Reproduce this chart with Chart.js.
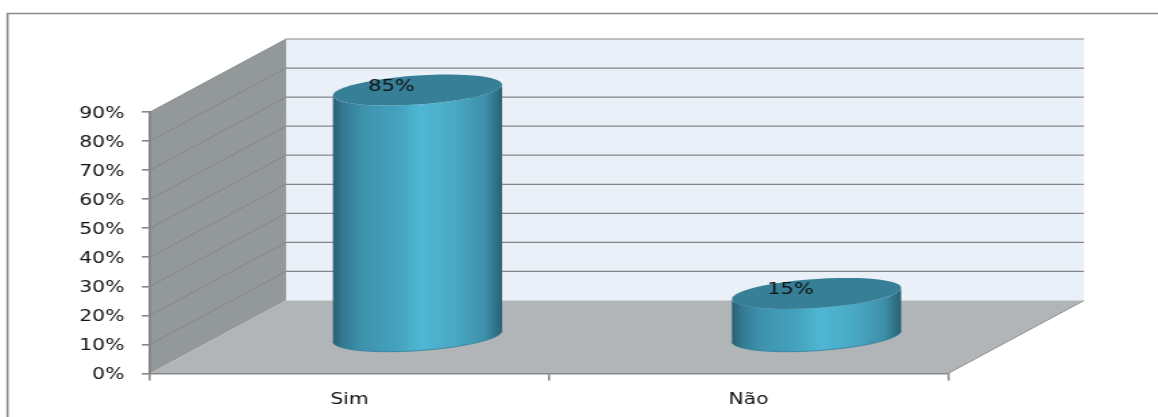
<!DOCTYPE html>
<html><head><meta charset="utf-8">
<style>
html,body{margin:0;padding:0;background:#fff;overflow:hidden}
canvas{display:block;width:1158px!important;height:417px!important;filter:blur(0.4px)}
</style>
<script src="https://cdn.jsdelivr.net/npm/chart.js@4"></script>
</head><body><canvas id="c" width="858" height="417"></canvas>
<script>
const categories = ["Sim", "Não"];
const seriesValues = [85, 15];
const yMin = 0, yMax = 90, yStep = 10;

const SX = 1158 / 858;            // the picture is stretched horizontally
const DX = 136 / SX, DY = 73;     // 3D depth offset
const FONT = '"DejaVu Sans"';

const scene = {
  id: 'scene',
  beforeDraw(chart) {
    const {ctx} = chart, x = chart.scales.x, y = chart.scales.y;
    const l = x.left, r = x.right, t = y.top, b = y.bottom;
    ctx.save();
    // outer frame
    ctx.strokeStyle = '#8c8c8c'; ctx.lineWidth = 1.6;
    ctx.beginPath(); ctx.moveTo(5.6, 417); ctx.lineTo(5.6, 13.5); ctx.lineTo(858, 13.5); ctx.stroke();
    // back wall
    ctx.fillStyle = '#e9f0f7';
    ctx.fillRect(l + DX, t - DY, r - l, b - t);
    // left wall
    ctx.fillStyle = '#93989a';
    ctx.beginPath(); ctx.moveTo(l, t); ctx.lineTo(l + DX, t - DY); ctx.lineTo(l + DX, b - DY); ctx.lineTo(l, b); ctx.closePath(); ctx.fill();
    // floor
    ctx.fillStyle = '#b1b5b8';
    ctx.beginPath(); ctx.moveTo(l, b); ctx.lineTo(r, b); ctx.lineTo(r + DX, b - DY); ctx.lineTo(l + DX, b - DY); ctx.closePath(); ctx.fill();
    // grid lines on walls
    y.ticks.forEach(tk => {
      const py = y.getPixelForValue(tk.value);
      if (tk.value > yMin) {
        ctx.strokeStyle = '#848788'; ctx.lineWidth = 1.2;
        ctx.beginPath(); ctx.moveTo(l + DX, py - DY); ctx.lineTo(r + DX, py - DY); ctx.stroke();
        ctx.strokeStyle = '#7f8384'; ctx.lineWidth = 0.8;
        ctx.beginPath(); ctx.moveTo(l, py); ctx.lineTo(l + DX, py - DY); ctx.stroke();
      }
    });
    // floor right edge
    ctx.strokeStyle = '#8c8f91'; ctx.lineWidth = 1;
    ctx.beginPath(); ctx.moveTo(r, b); ctx.lineTo(r + DX, b - DY); ctx.stroke();
    ctx.restore();
  },
  afterDatasetsDraw(chart) {
    const {ctx} = chart;
    const meta = chart.getDatasetMeta(0);
    const RY = 14.5, SHEAR = 0.088;
    meta.data.forEach((bar, i) => {
      const cx = bar.x + DX / 2, rx = bar.width / 2;
      const top = bar.y - DY / 2, base = bar.base - DY / 2;
      const path = (cy, a0, a1) => {
        for (let k = 0; k <= 48; k++) {
          const a = a0 + (a1 - a0) * k / 48;
          const ex = rx * Math.cos(a), ey = RY * Math.sin(a) - SHEAR * ex;
          ctx.lineTo(cx + ex, cy + ey);
        }
      };
      ctx.save();
      const g = ctx.createLinearGradient(cx - rx, 0, cx + rx, 0);
      g.addColorStop(0, '#2a5f74');
      g.addColorStop(0.06, '#337a92');
      g.addColorStop(0.18, '#3f93ae');
      g.addColorStop(0.38, '#44a2be');
      g.addColorStop(0.52, '#4fb7d4');
      g.addColorStop(0.72, '#4aa9c5');
      g.addColorStop(0.9, '#3e8fa9');
      g.addColorStop(0.97, '#2f6f85');
      g.addColorStop(1, '#2a5f72');
      ctx.fillStyle = g;
      ctx.beginPath();
      path(top, Math.PI, 0);
      ctx.lineTo(cx + rx, base - SHEAR * rx);
      path(base, 0, Math.PI);
      ctx.closePath(); ctx.fill();
      // bottom rim
      ctx.strokeStyle = '#2f7f99'; ctx.lineWidth = 0.8;
      ctx.beginPath(); ctx.moveTo(cx + rx, base - SHEAR * rx);
      path(base, 0, Math.PI); ctx.stroke();
      // top cap
      ctx.fillStyle = '#367f96';
      ctx.beginPath(); path(top, 0, Math.PI * 2); ctx.closePath(); ctx.fill();
      // value label
      ctx.fillStyle = '#111';
      ctx.font = '15.5px ' + FONT;
      ctx.textAlign = 'center'; ctx.textBaseline = 'middle';
      ctx.fillText(seriesValues[i] + '%', cx - 26 / SX, top - 3.5);
      ctx.restore();
    });
  }
};

new Chart(document.getElementById('c'), {
  type: 'bar',
  plugins: [scene],
  data: {
    labels: categories,
    datasets: [{
      data: seriesValues,
      backgroundColor: 'transparent',
      borderWidth: 0,
      barPercentage: 0.424,
      categoryPercentage: 1
    }]
  },
  options: {
    responsive: false,
    animation: false,
    devicePixelRatio: 1,
    layout: { padding: { left: 0, top: 112, right: 858 - 948 / SX, bottom: 0 } },
    plugins: { legend: { display: false }, title: { display: false }, tooltip: { enabled: false } },
    scales: {
      y: {
        min: yMin, max: yMax,
        afterFit: s => { s.width = 150 / SX; },
        ticks: { stepSize: yStep, callback: v => v + '%', color: '#111', padding: 13, labelOffset: 2,
                 font: { family: FONT, size: 15 } },
        border: { color: '#868686', width: 2 },
        grid: { drawOnChartArea: false, drawTicks: true, tickLength: 6, color: '#868686', lineWidth: 1.6 }
      },
      x: {
        afterFit: s => { s.height = 417 - 373.5; },
        ticks: { color: '#111', padding: 11, font: { family: FONT, size: 15 } },
        border: { color: '#868686', width: 1.6 },
        grid: { drawOnChartArea: false, drawTicks: true, tickLength: 7, color: '#868686', lineWidth: 1.6, offset: true }
      }
    }
  }
});
</script></body></html>
